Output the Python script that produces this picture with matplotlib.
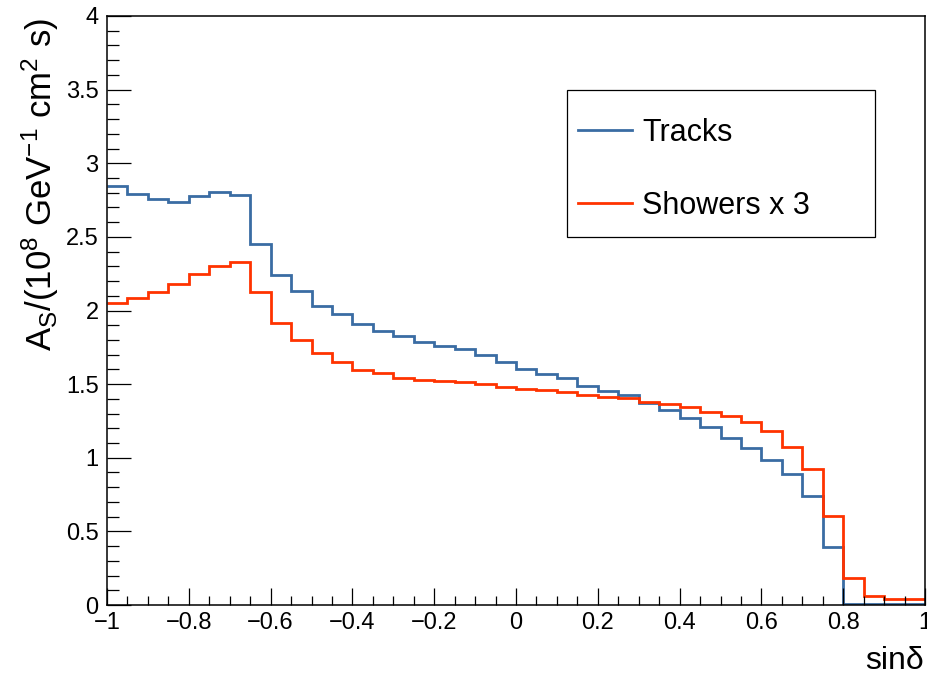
import matplotlib
matplotlib.use("Agg")
import matplotlib.pyplot as plt
import numpy as np
from matplotlib.ticker import MultipleLocator, FuncFormatter
from matplotlib.patches import Rectangle

plt.rcParams['font.family'] = ['Liberation Sans', 'DejaVu Sans']
plt.rcParams['mathtext.fontset'] = 'custom'
plt.rcParams['mathtext.rm'] = 'Liberation Sans'
plt.rcParams['mathtext.it'] = 'Liberation Sans:italic'

# 40 bins in sin(delta) from -1 to 1
bin_edges = np.linspace(-1, 1, 41)

tracks = [2.845, 2.788, 2.758, 2.736, 2.777, 2.802, 2.781, 2.455, 2.240, 2.134,
          2.032, 1.973, 1.908, 1.860, 1.828, 1.788, 1.760, 1.736, 1.697, 1.652,
          1.602, 1.570, 1.543, 1.489, 1.450, 1.423, 1.370, 1.324, 1.267, 1.211,
          1.136, 1.068, 0.984, 0.889, 0.742, 0.396, 0.01, 0.01, 0.01, 0.01]

showers_x3 = [2.052, 2.082, 2.123, 2.179, 2.249, 2.304, 2.327, 2.127, 1.917, 1.799,
              1.709, 1.652, 1.595, 1.575, 1.543, 1.527, 1.523, 1.512, 1.498, 1.478,
              1.469, 1.457, 1.444, 1.424, 1.414, 1.403, 1.377, 1.365, 1.346, 1.308,
              1.285, 1.245, 1.181, 1.075, 0.923, 0.606, 0.181, 0.063, 0.043, 0.043]

fig = plt.figure(figsize=(9.27, 6.75), dpi=100)
ax = fig.add_axes([107/927, 70/675, 818/927, 589/675])

ax.stairs(tracks, bin_edges, color='#3a6ca3', lw=2.0, baseline=None, label='Tracks')
ax.stairs(showers_x3, bin_edges, color='#ff3300', lw=2.0, baseline=None, label='Showers x 3')

ax.set_xlim(-1, 1)
ax.set_ylim(0, 4)

ax.xaxis.set_major_locator(MultipleLocator(0.2))
ax.xaxis.set_minor_locator(MultipleLocator(0.05))
ax.yaxis.set_major_locator(MultipleLocator(0.5))
ax.yaxis.set_minor_locator(MultipleLocator(0.1))
fmt = FuncFormatter(lambda v, p: ('%g' % round(v, 3)).replace('-', '\u2212'))
ax.xaxis.set_major_formatter(fmt)
ax.yaxis.set_major_formatter(fmt)

ax.tick_params(axis='both', which='both', direction='in', top=False, right=False,
               labelsize=17, width=0.9)
ax.tick_params(axis='x', which='major', length=12.5, pad=5)
ax.tick_params(axis='x', which='minor', length=6.5)
ax.tick_params(axis='y', which='major', length=17, pad=6)
ax.tick_params(axis='y', which='minor', length=8.5)
for s in ax.spines.values():
    s.set_linewidth(1.1)

fig.text(40/927, 1 - 18/675, r'$\mathregular{A_S/(10^8\ GeV^{-1}\ cm^2\ s)}$',
         rotation=90, ha='center', va='top', fontsize=25)
fig.text(924/927, 1 - 661/675, 'sin\u03b4', ha='right', va='center', fontsize=23)

# legend box (ROOT style, square frame) and entries
ax.add_patch(Rectangle((0.562, 0.625), 0.377, 0.249, transform=ax.transAxes,
                       fill=True, facecolor='white', edgecolor='black', lw=0.9, zorder=5))
leg = ax.legend(loc='upper left', bbox_to_anchor=(0.576, 0.827), fontsize=22,
                frameon=False, borderpad=0, labelspacing=1.4, handlelength=1.75,
                handletextpad=0.35, borderaxespad=0)
leg.set_zorder(6)

fig.savefig('out.png', dpi=100)
